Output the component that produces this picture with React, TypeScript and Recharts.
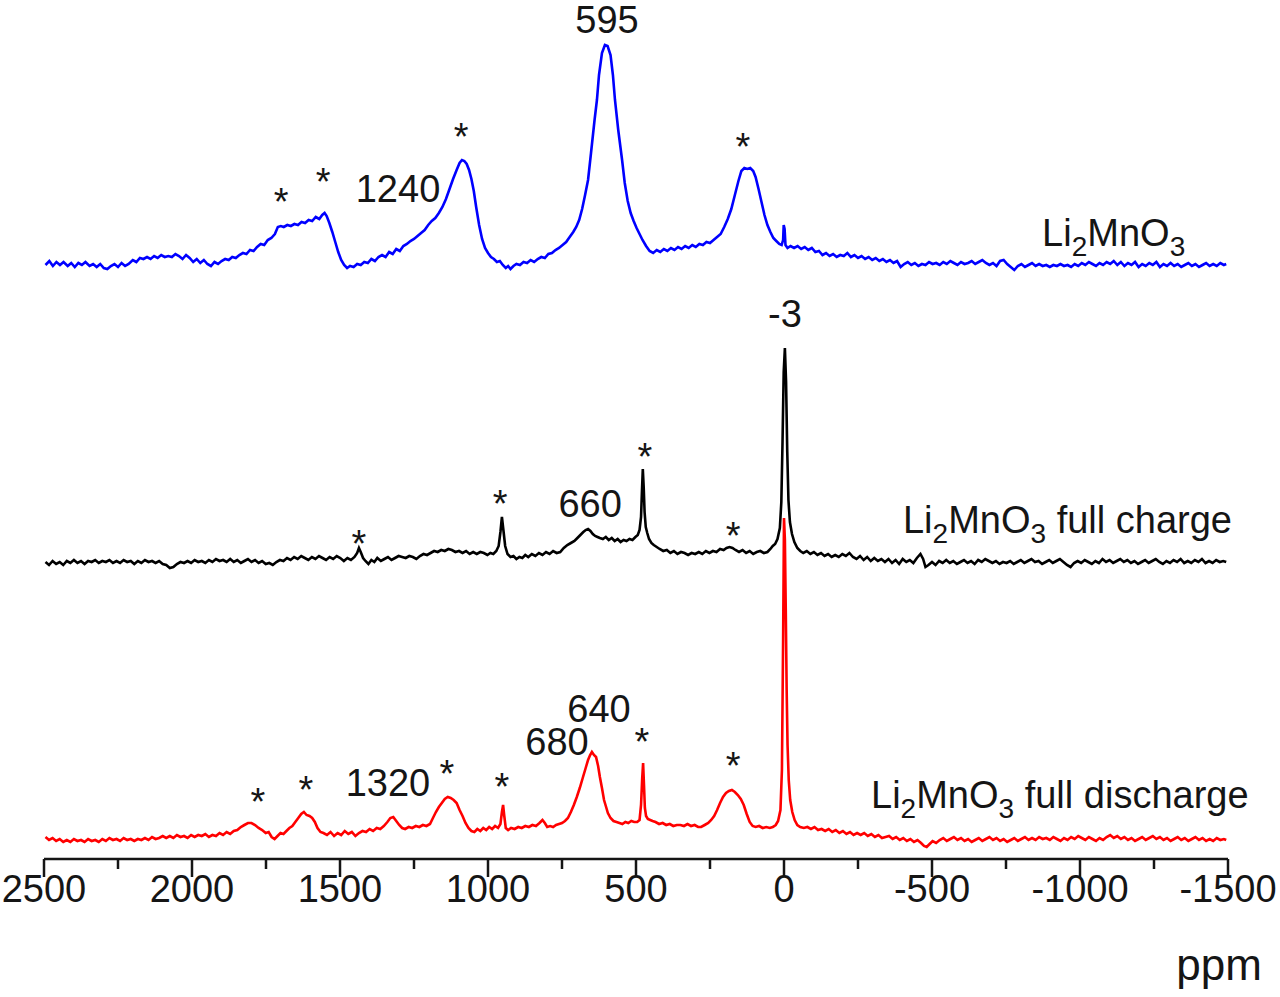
import React from "react";
import { LineChart, Line, XAxis, YAxis, ReferenceDot } from "recharts";

// 7Li MAS NMR spectra, [shift (ppm), intensity above the trace's own baseline]
const pristine: [number, number][] = [
  [2495, 0], [2482, 4], [2470, -1], [2458, 3], [2446, 0], [2434, 3], [2420, -1], [2408, 2], [2396, -2], [2384, 2],
  [2372, 0], [2360, 3], [2346, -1], [2334, 1], [2322, -2], [2310, 1], [2298, -3], [2286, -4], [2274, -1], [2262, 1],
  [2250, -2], [2238, 2], [2226, -1], [2214, 1], [2200, 5], [2188, 3], [2176, 7], [2164, 6], [2152, 8], [2140, 6],
  [2128, 9], [2116, 7], [2104, 10], [2092, 8], [2080, 9], [2068, 8], [2056, 11], [2044, 9], [2032, 6], [2020, 10],
  [2008, 7], [1996, 3], [1984, 6], [1972, 2], [1960, 5], [1948, 1], [1936, -1], [1924, 3], [1912, 1], [1900, 4],
  [1888, 6], [1876, 5], [1864, 8], [1852, 7], [1840, 10], [1828, 12], [1816, 11], [1804, 15], [1792, 14], [1780, 18],
  [1768, 21], [1756, 20], [1744, 25], [1732, 27], [1720, 31], [1710, 38], [1700, 39], [1690, 38], [1678, 40], [1666, 39],
  [1654, 41], [1642, 40], [1630, 43], [1618, 42], [1606, 45], [1594, 44], [1582, 48], [1570, 46], [1560, 50], [1552, 52],
  [1545, 49], [1536, 42], [1526, 33], [1516, 23], [1506, 13], [1496, 5], [1486, 0], [1476, -3], [1466, -1], [1454, -2],
  [1442, 1], [1430, 0], [1418, 3], [1406, 2], [1394, 6], [1382, 4], [1370, 8], [1358, 10], [1346, 8], [1334, 13],
  [1322, 11], [1310, 16], [1298, 14], [1286, 19], [1274, 21], [1262, 24], [1250, 26], [1238, 29], [1226, 32], [1214, 35],
  [1202, 40], [1190, 44], [1178, 47], [1166, 52], [1154, 58], [1142, 66], [1130, 76], [1118, 86], [1106, 95], [1096, 102],
  [1088, 105], [1080, 104], [1072, 101], [1064, 95], [1056, 86], [1048, 74], [1040, 58], [1030, 40], [1020, 26], [1010, 17],
  [1000, 12], [990, 8], [980, 6], [970, 3], [960, 4], [950, 0], [940, -3], [932, -1], [924, -4], [914, -1],
  [904, 1], [892, 0], [880, 3], [868, 2], [856, 5], [844, 3], [832, 6], [820, 8], [808, 7], [796, 11],
  [784, 12], [772, 15], [760, 17], [748, 20], [736, 23], [724, 28], [712, 33], [702, 38], [692, 45], [682, 56],
  [672, 70], [662, 85], [652, 112], [640, 145], [632, 165], [625, 190], [615, 212], [605, 220], [596, 219], [586, 210],
  [578, 190], [571, 165], [560, 135], [547, 105], [538, 82], [528, 64], [518, 52], [508, 44], [498, 37], [488, 31],
  [478, 25], [466, 19], [454, 14], [442, 12], [430, 15], [418, 13], [406, 16], [394, 14], [382, 17], [370, 15],
  [358, 18], [346, 16], [334, 19], [322, 17], [310, 20], [298, 18], [286, 21], [274, 20], [262, 23], [250, 22],
  [238, 25], [226, 28], [214, 31], [202, 38], [190, 46], [178, 56], [166, 70], [154, 84], [144, 94], [134, 97],
  [124, 96], [114, 97], [104, 94], [96, 88], [86, 76], [76, 63], [66, 50], [56, 40], [46, 33], [36, 27],
  [26, 24], [16, 21], [8, 20], [3, 25], [1, 40], [-2, 36], [-5, 20], [-12, 17], [-22, 19], [-34, 17],
  [-46, 19], [-58, 16], [-70, 18], [-82, 15], [-94, 17], [-106, 13], [-118, 14], [-130, 10], [-142, 12], [-154, 9],
  [-166, 11], [-178, 8], [-190, 10], [-202, 9], [-214, 12], [-226, 8], [-238, 10], [-250, 7], [-262, 9], [-274, 6],
  [-286, 8], [-298, 5], [-310, 7], [-322, 4], [-334, 6], [-346, 3], [-358, 5], [-370, 2], [-382, 4], [-394, -2],
  [-406, 1], [-418, 3], [-430, 0], [-442, 2], [-454, -1], [-466, 1], [-478, 0], [-490, 3], [-502, 1], [-514, 2],
  [-526, 0], [-538, 3], [-550, 1], [-562, 4], [-574, 2], [-586, 0], [-598, 3], [-610, 1], [-622, 2], [-634, 4],
  [-646, 1], [-658, 3], [-670, 5], [-682, 2], [-694, 0], [-706, 2], [-718, -1], [-730, 4], [-742, 5], [-754, 1],
  [-766, -2], [-778, -5], [-790, -1], [-802, 1], [-814, -2], [-826, 0], [-838, 2], [-850, -1], [-862, 1], [-874, -1],
  [-886, 0], [-898, -2], [-910, 0], [-922, -1], [-934, 1], [-946, -1], [-958, 0], [-970, -2], [-982, 1], [-994, -1],
  [-1006, 2], [-1018, 0], [-1030, 3], [-1042, 1], [-1054, -1], [-1066, 2], [-1078, 0], [-1090, 3], [-1102, 1], [-1114, 4],
  [-1126, 0], [-1138, 3], [-1150, -1], [-1162, 2], [-1174, 0], [-1186, 3], [-1198, -2], [-1210, 1], [-1222, -1], [-1234, 2],
  [-1246, 0], [-1258, 3], [-1270, -2], [-1282, 1], [-1294, -1], [-1306, 2], [-1318, -1], [-1330, 1], [-1342, -2], [-1354, 0],
  [-1366, 2], [-1378, -1], [-1390, 1], [-1402, -2], [-1414, 0], [-1426, 2], [-1438, -1], [-1450, 1], [-1462, -1], [-1474, 2],
  [-1486, 0], [-1494, 1],
];

const charged: [number, number][] = [
  [2495, 0], [2483, -3], [2471, 1], [2459, -2], [2447, 0], [2435, -3], [2423, 1], [2411, -1], [2399, 2], [2387, -1],
  [2375, 1], [2363, -2], [2351, 1], [2339, 0], [2327, 2], [2315, -1], [2303, 1], [2291, 0], [2279, 2], [2267, -1],
  [2255, 1], [2243, -1], [2231, 2], [2219, 0], [2207, 1], [2195, -2], [2183, 1], [2171, -1], [2159, 2], [2147, 0],
  [2135, 1], [2123, -1], [2111, 1], [2099, -2], [2087, -3], [2075, -6], [2063, -5], [2051, -2], [2039, 0], [2027, -1],
  [2015, 1], [2003, -1], [1991, 2], [1979, 0], [1967, 1], [1955, -1], [1943, 2], [1931, 0], [1919, 3], [1907, 1],
  [1895, 2], [1883, 0], [1871, 3], [1859, 0], [1847, 2], [1835, -1], [1823, 1], [1811, 3], [1799, 0], [1787, 2],
  [1775, -1], [1763, 1], [1751, -2], [1739, -1], [1727, -3], [1715, 0], [1703, 2], [1691, 1], [1679, 4], [1667, 2],
  [1655, 5], [1643, 3], [1631, 6], [1619, 4], [1607, 2], [1595, 5], [1583, 3], [1571, 6], [1559, 4], [1547, 2],
  [1535, 5], [1523, 3], [1511, 6], [1499, 4], [1487, 1], [1475, 4], [1463, 2], [1451, 5], [1442, 9], [1436, 14],
  [1430, 10], [1422, 4], [1414, 1], [1404, -2], [1394, 2], [1384, 0], [1374, 4], [1362, 1], [1350, 3], [1338, 5],
  [1326, 2], [1314, 4], [1302, 6], [1290, 5], [1278, 4], [1266, 6], [1254, 5], [1242, 3], [1230, 6], [1218, 8],
  [1206, 7], [1194, 9], [1182, 11], [1170, 10], [1158, 12], [1146, 11], [1134, 13], [1122, 12], [1110, 10], [1098, 11],
  [1086, 9], [1074, 11], [1062, 8], [1050, 10], [1038, 8], [1026, 10], [1014, 9], [1002, 7], [992, 9], [982, 8],
  [972, 11], [964, 16], [958, 30], [953, 45], [948, 32], [942, 16], [934, 8], [924, 5], [914, 6], [904, 3],
  [894, 5], [884, 4], [874, 7], [864, 5], [852, 8], [840, 6], [828, 9], [816, 7], [804, 10], [792, 8],
  [780, 11], [768, 9], [756, 10], [744, 14], [732, 17], [720, 19], [708, 21], [698, 24], [688, 27], [678, 30],
  [670, 32], [662, 33], [654, 31], [646, 28], [638, 26], [630, 25], [622, 24], [612, 23], [602, 25], [592, 22],
  [582, 24], [572, 21], [562, 23], [552, 20], [542, 22], [532, 21], [522, 23], [512, 22], [502, 25], [494, 27],
  [488, 32], [483, 45], [480, 70], [477, 93], [474, 75], [471, 50], [467, 35], [462, 29], [456, 23], [448, 19],
  [440, 17], [430, 15], [420, 13], [408, 11], [396, 12], [384, 9], [372, 11], [360, 8], [348, 10], [336, 9],
  [324, 7], [312, 9], [300, 8], [288, 10], [276, 8], [264, 11], [252, 9], [240, 11], [228, 10], [216, 13],
  [204, 12], [194, 14], [184, 15], [174, 14], [164, 12], [152, 10], [140, 12], [128, 9], [116, 11], [104, 8],
  [92, 10], [80, 11], [68, 9], [56, 10], [46, 13], [38, 16], [30, 18], [22, 23], [14, 34], [9, 60],
  [5, 120], [1, 190], [-3, 214], [-7, 180], [-11, 110], [-15, 62], [-20, 40], [-27, 28], [-35, 20], [-45, 14],
  [-55, 11], [-65, 9], [-77, 11], [-89, 8], [-101, 10], [-113, 7], [-125, 9], [-137, 6], [-149, 8], [-161, 5],
  [-173, 7], [-185, 5], [-197, 8], [-209, 6], [-221, 9], [-233, 5], [-245, 3], [-257, 6], [-269, 2], [-281, 5],
  [-293, 1], [-305, 4], [-317, 1], [-329, 3], [-341, 0], [-353, 3], [-365, -1], [-377, 2], [-389, -2], [-401, 3],
  [-413, 0], [-425, 2], [-437, -1], [-449, 4], [-461, 8], [-470, 3], [-478, -5], [-488, -3], [-500, 0], [-512, -3],
  [-524, 1], [-536, -1], [-548, 2], [-560, -1], [-572, 1], [-584, -2], [-596, 0], [-608, 2], [-620, -1], [-632, 1],
  [-644, -2], [-656, 2], [-668, 0], [-680, 3], [-692, 1], [-704, -1], [-716, 1], [-728, -2], [-740, 0], [-752, -1],
  [-764, 1], [-776, -2], [-788, 0], [-800, 2], [-812, -1], [-824, 1], [-836, 3], [-848, 0], [-860, 1], [-872, -2],
  [-884, 0], [-896, 2], [-908, -1], [-920, 1], [-932, 3], [-944, 0], [-956, -3], [-968, -5], [-980, -1], [-992, 1],
  [-1004, -1], [-1016, 2], [-1028, 0], [-1040, -2], [-1052, 1], [-1064, -1], [-1076, 3], [-1088, 0], [-1100, 2], [-1112, -1],
  [-1124, 1], [-1136, 3], [-1148, 0], [-1160, 2], [-1172, -1], [-1184, 1], [-1196, -2], [-1208, 0], [-1220, 2], [-1232, -1],
  [-1244, 1], [-1256, 3], [-1268, 0], [-1280, -2], [-1292, 1], [-1304, -1], [-1316, 2], [-1328, 0], [-1340, 3], [-1352, -1],
  [-1364, 1], [-1376, -1], [-1388, 2], [-1400, 0], [-1412, 3], [-1424, -1], [-1436, 1], [-1448, -1], [-1460, 2], [-1472, 0],
  [-1484, 1], [-1494, 0],
];

const discharged: [number, number][] = [
  [2495, 3], [2483, 0], [2471, 2], [2459, -1], [2447, 1], [2435, -2], [2423, 0], [2411, -2], [2399, 1], [2387, -1],
  [2375, 0], [2363, -2], [2351, 1], [2339, -1], [2327, 0], [2315, -2], [2303, 1], [2291, -1], [2279, 2], [2267, 0],
  [2255, 1], [2243, -1], [2231, 2], [2219, 0], [2207, 1], [2195, -1], [2183, 1], [2171, 0], [2159, 2], [2147, 0],
  [2135, 3], [2123, 1], [2111, 2], [2099, 4], [2087, 2], [2075, 4], [2063, 2], [2051, 5], [2039, 3], [2027, 4],
  [2015, 2], [2003, 5], [1991, 3], [1979, 5], [1967, 4], [1955, 6], [1943, 3], [1931, 5], [1919, 4], [1907, 7],
  [1895, 5], [1883, 8], [1871, 6], [1859, 9], [1847, 10], [1835, 13], [1823, 15], [1811, 17], [1799, 17], [1787, 15],
  [1775, 12], [1763, 10], [1751, 7], [1741, 8], [1731, 3], [1721, 1], [1711, 4], [1701, 7], [1691, 6], [1681, 9],
  [1671, 12], [1661, 14], [1651, 18], [1641, 22], [1631, 26], [1622, 28], [1613, 25], [1603, 24], [1594, 22], [1585, 18],
  [1576, 12], [1566, 8], [1556, 7], [1544, 5], [1532, 8], [1520, 4], [1508, 7], [1496, 5], [1484, 9], [1472, 6],
  [1460, 8], [1448, 4], [1436, 7], [1424, 9], [1412, 8], [1400, 11], [1388, 9], [1376, 12], [1364, 11], [1352, 14],
  [1340, 18], [1330, 22], [1320, 23], [1310, 19], [1300, 15], [1290, 12], [1280, 11], [1268, 13], [1256, 12], [1244, 14],
  [1232, 13], [1220, 15], [1208, 14], [1196, 16], [1186, 22], [1176, 28], [1166, 33], [1156, 37], [1146, 41], [1136, 43],
  [1126, 42], [1116, 40], [1106, 37], [1096, 30], [1086, 24], [1076, 17], [1066, 12], [1056, 9], [1046, 8], [1036, 11],
  [1026, 9], [1016, 12], [1006, 10], [996, 13], [986, 11], [976, 14], [966, 12], [958, 16], [953, 28], [949, 35],
  [945, 24], [940, 12], [932, 10], [922, 12], [910, 11], [898, 13], [886, 12], [874, 14], [862, 13], [850, 15],
  [838, 14], [826, 17], [816, 20], [808, 17], [800, 13], [790, 14], [780, 13], [770, 15], [760, 16], [750, 17],
  [740, 19], [730, 22], [720, 28], [710, 35], [700, 43], [690, 52], [680, 62], [670, 72], [662, 80], [655, 85],
  [649, 88], [642, 85], [635, 83], [628, 74], [622, 63], [615, 52], [608, 40], [601, 33], [595, 27], [586, 22],
  [576, 19], [566, 18], [556, 17], [546, 16], [536, 18], [526, 17], [516, 19], [506, 18], [496, 18], [488, 20],
  [483, 35], [479, 62], [476, 77], [473, 55], [470, 32], [466, 24], [460, 21], [452, 20], [444, 19], [434, 18],
  [422, 16], [410, 17], [398, 15], [386, 16], [374, 14], [362, 15], [350, 15], [338, 14], [326, 16], [314, 14],
  [302, 15], [290, 13], [280, 13], [268, 15], [256, 17], [246, 20], [236, 24], [226, 30], [216, 37], [206, 43],
  [196, 47], [186, 49], [176, 50], [166, 48], [156, 45], [146, 41], [136, 35], [126, 26], [116, 18], [106, 14],
  [96, 13], [84, 14], [72, 12], [60, 13], [48, 12], [38, 13], [28, 15], [20, 19], [12, 30], [7, 70],
  [3, 200], [0, 322], [-3, 300], [-6, 230], [-9, 150], [-12, 95], [-16, 60], [-21, 40], [-28, 28], [-36, 20],
  [-45, 15], [-55, 13], [-67, 12], [-79, 13], [-91, 11], [-103, 13], [-115, 10], [-127, 11], [-139, 9], [-151, 11],
  [-163, 8], [-175, 10], [-187, 7], [-199, 9], [-211, 6], [-223, 8], [-235, 5], [-247, 7], [-259, 5], [-271, 7],
  [-283, 4], [-295, 6], [-307, 3], [-319, 5], [-331, 2], [-343, 3], [-355, 4], [-367, 1], [-379, 3], [-391, 0],
  [-403, 2], [-415, -1], [-427, 1], [-439, -2], [-451, 0], [-463, -3], [-473, -6], [-482, -7], [-492, -4], [-502, -1],
  [-514, -3], [-526, 0], [-538, 2], [-550, -1], [-562, 1], [-574, 3], [-586, 0], [-598, 2], [-610, -1], [-622, 1],
  [-634, -2], [-646, 0], [-658, 2], [-670, -1], [-682, 1], [-694, 3], [-706, 0], [-718, 2], [-730, -1], [-742, 1],
  [-754, -2], [-766, 0], [-778, 2], [-790, -1], [-802, 1], [-814, 3], [-826, 0], [-838, 2], [-850, 0], [-862, 3],
  [-874, 1], [-886, 2], [-898, 0], [-910, 3], [-922, 1], [-934, -1], [-946, 2], [-958, 0], [-970, 3], [-982, 1],
  [-994, 4], [-1006, 2], [-1018, 0], [-1030, 3], [-1042, 1], [-1054, -1], [-1066, 2], [-1078, 0], [-1090, 3], [-1102, 5],
  [-1114, 2], [-1126, 4], [-1138, 1], [-1150, 3], [-1162, 0], [-1174, 2], [-1186, -1], [-1198, 1], [-1210, 3], [-1222, 0],
  [-1234, 2], [-1246, 4], [-1258, 1], [-1270, 3], [-1282, 0], [-1294, 2], [-1306, -1], [-1318, 1], [-1330, 3], [-1342, 0],
  [-1354, 2], [-1366, -1], [-1378, 1], [-1390, 3], [-1402, 0], [-1414, 2], [-1426, -1], [-1438, 1], [-1450, -1], [-1462, 2],
  [-1474, 0], [-1486, 1], [-1494, 0],
];

// vertical stacking offsets of the three spectra
const offsets = { pristine: 594, charged: 297, discharged: 19 };

const xTicks = [2500, 2250, 2000, 1750, 1500, 1250, 1000, 750, 500, 250, 0, -250, -500, -750, -1000, -1250, -1500];

// peak annotations: [shift, height on the stacked scale, text]
const pristineNotes: [number, number, string][] = [
  [1699, 644, "*"], [1557, 664, "*"], [1304, 657, "1240"], [1091, 709, "*"], [598, 826, "595"], [139, 699, "*"],
];
const chargedNotes: [number, number, string][] = [
  [1436, 302, "*"], [959, 342, "*"], [655, 342, "660"], [470, 389, "*"], [172, 310, "*"], [-3, 532, "-3"],
];
const dischargedNotes: [number, number, string][] = [
  [1777, 44, "*"], [1615, 56, "*"], [1338, 63, "1320"], [1139, 72, "*"], [953, 59, "*"],
  [767, 104, "680"], [625, 137, "640"], [480, 104, "*"], [172, 80, "*"],
];

// sample names, anchored at their left edge
const sampleNames: [number, number, string][] = [
  [-872, 613, ""], [-402, 326, " full charge"], [-294, 51, " full discharge"],
];

const FONT = "'Liberation Sans', Arial, Helvetica, sans-serif";
const INK = "#151515";

const stack = (pts: [number, number][], off: number) => pts.map(([ppm, v]) => ({ ppm, v: v + off }));

function AxisTick({ x, y, payload }: any) {
  const major = payload.value % 500 === 0;
  return (
    <g>
      <line x1={x} x2={x} y1={y} y2={y + (major ? 18 : 10)} stroke={INK} strokeWidth={2.5} />
      {major && (
        <text x={x} y={y + 43} textAnchor="middle" fontSize={38} fontFamily={FONT} fill={INK}>
          {payload.value}
        </text>
      )}
    </g>
  );
}

const noteContent = (text: string) => (props: any) => {
  const { x, y, width, height } = props.viewBox;
  return (
    <text x={x + width / 2} y={y + height / 2} textAnchor="middle" fontSize={38} fontFamily={FONT} fill={INK}>
      {text}
    </text>
  );
};

const nameContent = (suffix: string) => (props: any) => {
  const { x, y, width, height } = props.viewBox;
  return (
    <text x={x + width / 2} y={y + height / 2} fontSize={38} fontFamily={FONT} fill={INK}>
      Li
      <tspan fontSize={28} dy={10}>2</tspan>
      <tspan dy={-10}>MnO</tspan>
      <tspan fontSize={28} dy={10}>3</tspan>
      <tspan dy={-10}>{suffix}</tspan>
    </text>
  );
};

const ppmLabel = (props: any) => {
  const { x, y, width } = props.viewBox;
  return (
    <text x={x + width - 9} y={y + 121} textAnchor="middle" fontSize={44} fontFamily={FONT} fill={INK}>
      ppm
    </text>
  );
};

export default function App() {
  const notes = [...pristineNotes, ...chargedNotes, ...dischargedNotes];
  return (
    <div style={{ position: "absolute", left: 0, top: 0, background: "#fff" }}>
      <LineChart width={1280} height={997} margin={{ top: 0, right: 52, bottom: 0, left: 44 }}>
        <XAxis
          type="number"
          dataKey="ppm"
          domain={[-1500, 2500]}
          reversed
          allowDataOverflow
          ticks={xTicks}
          interval={0}
          tickSize={0}
          tickMargin={0}
          tickLine={false}
          tick={<AxisTick />}
          axisLine={{ stroke: INK, strokeWidth: 2.5 }}
          height={138}
          label={{ content: ppmLabel }}
        />
        <YAxis hide type="number" domain={[0, 859]} allowDataOverflow />
        <Line data={stack(pristine, offsets.pristine)} dataKey="v" type="linear" stroke="#0000ff" strokeWidth={2.6} dot={false} isAnimationActive={false} />
        <Line data={stack(charged, offsets.charged)} dataKey="v" type="linear" stroke="#000000" strokeWidth={2.6} dot={false} isAnimationActive={false} />
        <Line data={stack(discharged, offsets.discharged)} dataKey="v" type="linear" stroke="#ff0000" strokeWidth={2.6} dot={false} isAnimationActive={false} />
        {notes.map(([ppm, h, text], i) => (
          <ReferenceDot key={"n" + i} x={ppm} y={h} r={1} fill="none" stroke="none" ifOverflow="visible" label={{ content: noteContent(text) }} />
        ))}
        {sampleNames.map(([ppm, h, suffix], i) => (
          <ReferenceDot key={"s" + i} x={ppm} y={h} r={1} fill="none" stroke="none" ifOverflow="visible" label={{ content: nameContent(suffix) }} />
        ))}
      </LineChart>
    </div>
  );
}
